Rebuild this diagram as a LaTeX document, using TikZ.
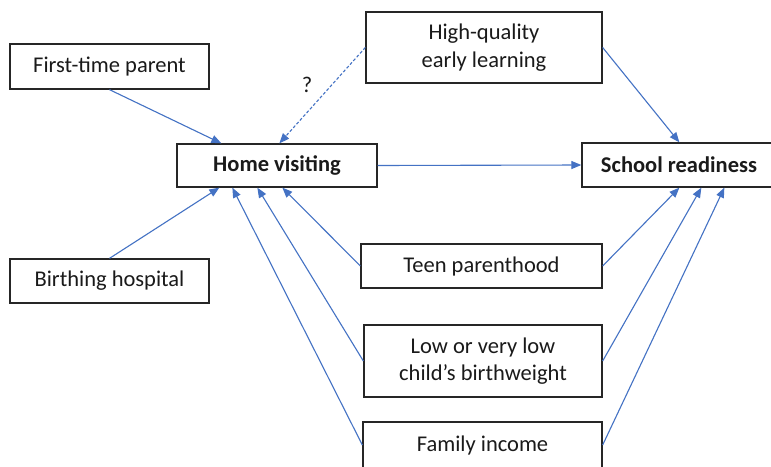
\documentclass[tikz,border=0pt]{standalone}
\usepackage{fontspec}
\setmainfont{Carlito}
\usetikzlibrary{arrows.meta,calc}
\definecolor{arrowblue}{HTML}{4472C4}
\definecolor{boxtext}{HTML}{1A1A1A}
\begin{document}
\begin{tikzpicture}[x=1pt,y=-1pt,
  box/.style={draw=black!85,line width=1.3pt,fill=white,inner sep=0pt,align=center,
    font=\fontsize{22.5}{27.5}\selectfont,text=boxtext},
  conn/.style={draw=arrowblue,line width=1.1pt,-{Triangle[length=10pt,width=8pt]}},
  dconn/.style={conn,dash pattern=on 3pt off 2pt}]
\useasboundingbox (0,0) rectangle (771,466);
\fill[white] (0,0) rectangle (771,466);
\node[box,minimum width=199,minimum height=45] (ftp) at (109.5,66.5) {First-time parent};
\node[box,minimum width=200,minimum height=43,font=\fontsize{22.5}{27.5}\selectfont\bfseries] (hv) at (277,165.5) {Home visiting};
\node[box,minimum width=236,minimum height=71] (hq) at (484,47.5) {High-quality\\early learning};
\node[box,minimum width=194,minimum height=44,font=\fontsize{22.5}{27.5}\selectfont\bfseries] (sr) at (679,165) {School readiness};
\node[box,minimum width=199,minimum height=44] (bh) at (109.5,281) {Birthing hospital};
\node[box,minimum width=241,minimum height=44] (tp) at (481.5,266) {Teen parenthood};
\node[box,minimum width=238,minimum height=72] (lb) at (483,361) {Low or very low\\child’s birthweight};
\node[box,minimum width=239,minimum height=46] (fi) at (482.5,445) {Family income};
\node[font=\fontsize{22.5}{27.5}\selectfont,text=boxtext] (q) at (307,85) {?};
\draw[conn] (ftp.south) -- ($(hv.north west)+(45,0)$);
\draw[dconn] (hq.west) -- ($(hv.north west)+(103,0)$);
\draw[conn] (hv.east) -- (sr.west);
\draw[conn] (hq.east) -- ($(sr.north west)+(98,0)$);
\draw[conn] (bh.north) -- ($(hv.south west)+(43,0)$);
\draw[conn] (tp.west) -- ($(hv.south west)+(106,0)$);
\draw[conn] (lb.west) -- ($(hv.south west)+(81,0)$);
\draw[conn] (fi.west) -- ($(hv.south west)+(56,0)$);
\draw[conn] (tp.east) -- ($(sr.south west)+(98,0)$);
\draw[conn] (lb.east) -- ($(sr.south west)+(120,0)$);
\draw[conn] (fi.east) -- ($(sr.south west)+(143,0)$);
\end{tikzpicture}
\end{document}
